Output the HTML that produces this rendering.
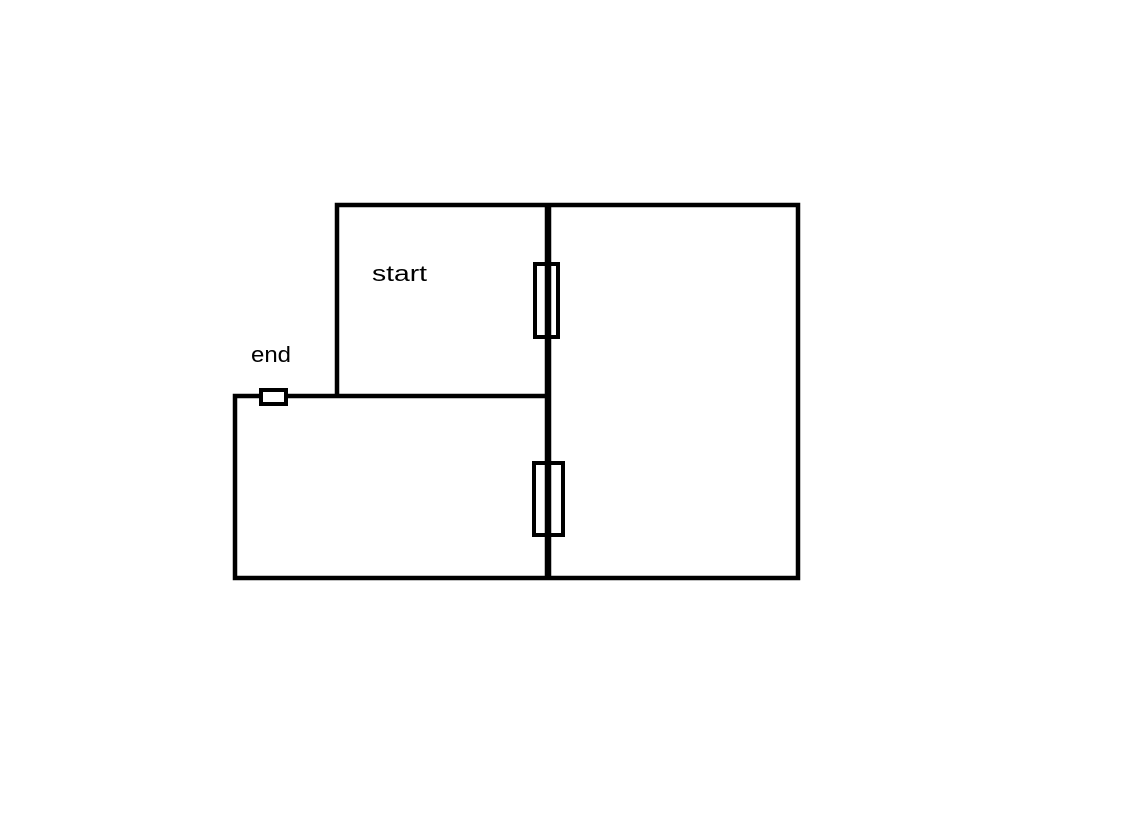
<!DOCTYPE html>
<html><head><meta charset="utf-8"><style>html,body{margin:0;padding:0;background:#fff;width:1122px;height:816px;overflow:hidden}</style></head>
<body>
<svg width="1122" height="816" viewBox="0 0 1122 816" xmlns="http://www.w3.org/2000/svg">
<g fill="none" stroke="#000" stroke-width="4.5" stroke-linecap="square">
<path d="M337 396 V205 H798 V578 H235 V396 H547"/>
</g>
<line x1="548" y1="203" x2="548" y2="580" stroke="#000" stroke-width="6.5"/>
<g fill="#fff" stroke="#000" stroke-width="4">
<rect x="535" y="264" width="23" height="73"/>
<rect x="534" y="463" width="29" height="72"/>
<rect x="261" y="390" width="25" height="14"/>
</g>
<line x1="548" y1="266" x2="548" y2="335" stroke="#000" stroke-width="6.5"/>
<line x1="548" y1="465" x2="548" y2="533" stroke="#000" stroke-width="6.5"/>
<text x="372" y="281" font-family="Liberation Sans, sans-serif" font-size="22" textLength="55" lengthAdjust="spacingAndGlyphs" fill="#000">start</text>
<text x="251" y="362" font-family="Liberation Sans, sans-serif" font-size="22" textLength="40" lengthAdjust="spacingAndGlyphs" fill="#000">end</text>
</svg>
</body></html>
